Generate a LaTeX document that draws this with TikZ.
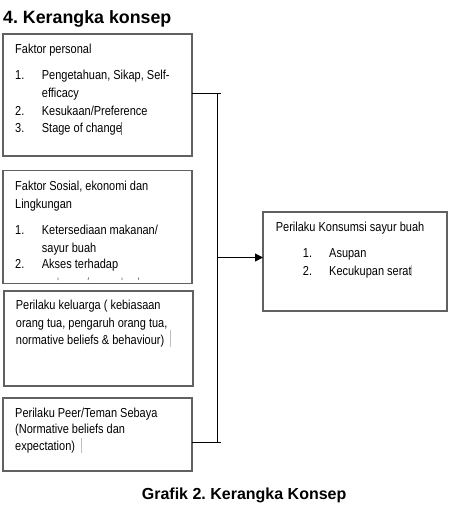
\documentclass[tikz,border=0pt]{standalone}
\usepackage{fontspec}
\setmainfont{Liberation Sans}
\newfontfamily\nar[FakeStretch=0.845]{Liberation Sans}
\usetikzlibrary{arrows.meta}
\frenchspacing
\begin{document}
\begin{tikzpicture}[x=1pt,y=-1pt,
  box/.style={draw=black!62,line width=1.1pt},
  txt/.style={anchor=base west,inner sep=0pt,font=\nar\fontsize{13}{15}\selectfont},
  conn/.style={draw=black,line width=1pt},
  bar/.style={draw=black!25,line width=0.6pt}]
\useasboundingbox[fill=white] (0,0) rectangle (463,521);
% title
\node[anchor=base west,inner sep=0pt,font=\bfseries\fontsize{17.8}{20}\selectfont] (title) at (3,23.3) {4. Kerangka konsep};
% boxes
\draw[box] (3,34) rectangle (192,156);
\draw[box] (3,170.5) rectangle (192,283.5);
\draw[box] (4,291) rectangle (193,386);
\draw[box] (3,398) rectangle (192,471);
\draw[box] (263,212) rectangle (447,311);
\coordinate (b1) at (192,93.3);
\coordinate (b4) at (192,442.3);
\coordinate (b5) at (263,257.5);
% box 1
\node[txt] (a0) at (15,54) {Faktor personal};
\node[txt] (a1n) at (15,79.7) {1.};
\node[txt] (a1) at (41.7,79.7) {Pengetahuan, Sikap, Self-};
\node[txt] (a1b) at (41.7,97.4) {efficacy};
\node[txt] (a2n) at (15,115.1) {2.};
\node[txt] (a2) at (41.7,115.1) {Kesukaan/Preference};
\node[txt] (a3n) at (15,132.8) {3.};
\node[txt] (a3) at (41.7,132.8) {Stage of change};
\draw[draw=black!55,line width=0.6pt] (121.7,122.5) -- (121.7,135.5);
% box 2
\node[txt] (c0) at (15,190.7) {Faktor Sosial, ekonomi dan};
\node[txt] (c0b) at (15,208) {Lingkungan};
\node[txt] (c1n) at (15,234.7) {1.};
\node[txt] (c1) at (41.7,234.7) {Ketersediaan makanan/};
\node[txt] (c1b) at (41.7,252) {sayur buah};
\node[txt] (c2n) at (15,268.7) {2.};
\node[txt] (c2) at (41.7,268.7) {Akses terhadap};
\draw[black!60,line width=0.7pt] (58,277.5) -- (58,280) (88.6,277.5) -- (88,280) (122,277.5) -- (122,280) (138.5,277.5) -- (138.5,279.5);
% box 3
\node[txt] (d0) at (15.7,309.7) {Perilaku keluarga ( kebiasaan};
\node[txt] (d1) at (15.7,327.4) {orang tua, pengaruh orang tua,};
\node[txt] (d2) at (15.7,344.7) {normative beliefs \& behaviour)};
\draw[bar] (170,330) -- (170,346.5);
% box 4
\node[txt] (e0) at (15,417) {Perilaku Peer/Teman Sebaya};
\node[txt] (e1) at (15,433.7) {(Normative beliefs dan};
\node[txt] (e2) at (15,450.7) {expectation)};
\draw[bar] (81,438) -- (81,453);
% box 5
\node[txt] (f0) at (275.7,231.4) {Perilaku Konsumsi sayur buah};
\node[txt] (f1n) at (302.7,257.4) {1.};
\node[txt] (f1) at (329,257.4) {Asupan};
\node[txt] (f2n) at (302.7,275.4) {2.};
\node[txt] (f2) at (329,275.4) {Kecukupan serat};
\draw[bar] (411,264.5) -- (411,276);
% connectors
\coordinate (v1) at (217.3,93.3);
\coordinate (v4) at (217.3,442.3);
\coordinate (vm) at (217.3,257.5);
\draw[conn] (b1) -- (221,93.3);
\draw[conn] (b4) -- (221,442.3);
\draw[conn] (v1) -- (v4);
\draw[conn,-{Triangle[length=8pt,width=8pt]}] (vm) -- (b5);
% caption
\node[anchor=base west,inner sep=0pt,font=\bfseries\fontsize{16}{18}\selectfont] (cap) at (141.7,499) {Grafik 2. Kerangka Konsep};
\end{tikzpicture}
\end{document}
